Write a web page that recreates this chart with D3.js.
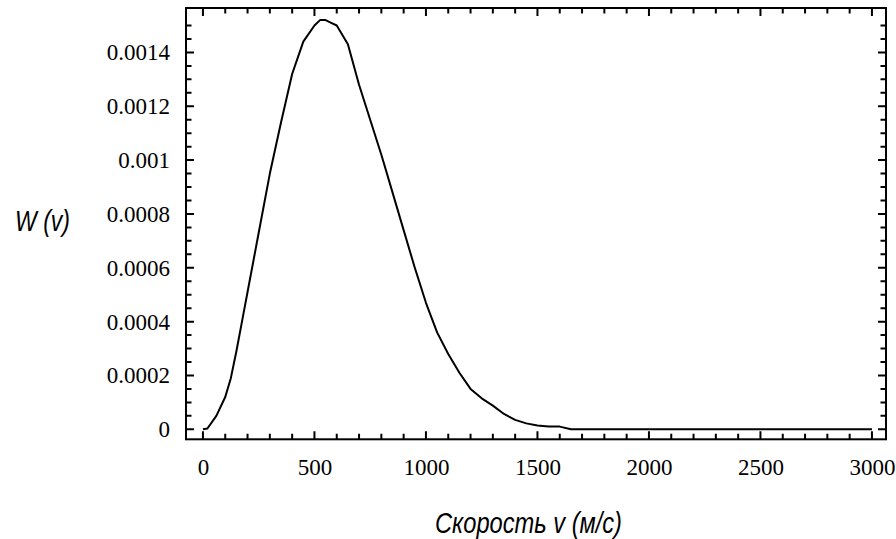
<!DOCTYPE html>
<html>
<head>
<meta charset="utf-8">
<script src="https://cdn.jsdelivr.net/npm/d3@7"></script>
<style>
  body { margin: 0; background: #fff; }
  .tick text { font-family: "Liberation Serif", "Times New Roman", serif; font-size: 23px; fill: #000; }
  .title { font-family: "Liberation Sans", Arial, sans-serif; font-style: italic; font-size: 29px; fill: #000; }
</style>
</head>
<body>
<div id="chart"></div>
<script>
const width = 896;
const height = 539;

// speed v (m/s) and W(v)
const speeds = [0, 20, 60, 100, 125, 150, 175, 200, 250, 300, 350, 400, 450, 500, 525, 550, 575, 600, 650, 700,
  750, 800, 850, 900, 950, 1000, 1050, 1100, 1150, 1200, 1250, 1300, 1350, 1400, 1450, 1500, 1550, 1600, 1650, 3000];
const wValues = [0, 0.000003, 0.00005, 0.00012, 0.00019, 0.00029, 0.0004, 0.00051, 0.00073, 0.00095, 0.00114, 0.00132, 0.00144, 0.0015, 0.00152, 0.00152, 0.00151, 0.0015, 0.00143, 0.00128,
  0.00115, 0.00102, 0.00088, 0.00074, 0.0006, 0.00047, 0.00036, 0.00028, 0.00021, 0.00015, 0.000115, 0.000088, 0.000057, 0.000035, 0.000022, 0.000014, 0.00001, 0.00001, 0, 0];

const xTicks = [0, 500, 1000, 1500, 2000, 2500, 3000];
const yTicks = [0, 0.0002, 0.0004, 0.0006, 0.0008, 0.001, 0.0012, 0.0014];
const yLabels = ["0", "0.0002", "0.0004", "0.0006", "0.0008", "0.001", "0.0012", "0.0014"];

const xMinor = d3.range(0, 3001, 100).filter(v => v % 500 !== 0);
const yMinor = d3.range(0, 31).map(i => i * 0.00005).filter((v, i) => i % 4 !== 0);

const plotLeft = 186, plotRight = 886, plotTop = 8, plotBottom = 439.3;

const x = d3.scaleLinear().domain([-76, 3063]).range([plotLeft, plotRight]);
const y = d3.scaleLinear().domain([-0.0000371, 0.001565]).range([plotBottom, plotTop]);

const svg = d3.select("#chart").append("svg")
  .attr("width", width)
  .attr("height", height);

// labels through d3 axes
svg.append("g")
  .attr("transform", `translate(0,${plotBottom})`)
  .call(d3.axisBottom(x).tickValues(xTicks).tickSize(0).tickPadding(19).tickFormat(d3.format("d")))
  .call(g => g.select(".domain").remove());

svg.append("g")
  .attr("transform", `translate(${plotLeft},0)`)
  .call(d3.axisLeft(y).tickValues(yTicks).tickSize(0).tickPadding(16).tickFormat((d, i) => yLabels[i]))
  .call(g => g.select(".domain").remove());

// inward ticks on all four sides, as one path
let tickPath = "";
function addX(vals, len) {
  vals.forEach(v => {
    const px = x(v);
    tickPath += `M${px},${plotBottom}V${plotBottom - len}M${px},${plotTop}V${plotTop + len}`;
  });
}
function addY(vals, len) {
  vals.forEach(v => {
    const py = y(v);
    tickPath += `M${plotLeft},${py}H${plotLeft + len}M${plotRight},${py}H${plotRight - len}`;
  });
}
addX(xTicks, 8);
addX(xMinor, 5.5);
addY(yTicks, 8);
addY(yMinor, 5.5);

svg.append("path")
  .attr("d", tickPath)
  .attr("fill", "none")
  .attr("stroke", "#000")
  .attr("stroke-width", 2);

// frame
svg.append("rect")
  .attr("x", plotLeft)
  .attr("y", plotTop)
  .attr("width", plotRight - plotLeft)
  .attr("height", plotBottom - plotTop)
  .attr("fill", "none")
  .attr("stroke", "#000")
  .attr("stroke-width", 2);

// curve
const line = d3.line()
  .x((d, i) => x(speeds[i]))
  .y(d => y(d));

svg.append("path")
  .datum(wValues)
  .attr("d", line)
  .attr("fill", "none")
  .attr("stroke", "#000")
  .attr("stroke-width", 2)
  .attr("stroke-linejoin", "round");

// axis titles (narrow italic, squeezed to the reference width)
svg.append("text")
  .attr("class", "title")
  .attr("x", 435)
  .attr("y", 533)
  .attr("textLength", 187)
  .attr("lengthAdjust", "spacingAndGlyphs")
  .text("Скорость v (м/с)");

svg.append("text")
  .attr("class", "title")
  .attr("x", 15)
  .attr("y", 231)
  .attr("textLength", 55)
  .attr("lengthAdjust", "spacingAndGlyphs")
  .text("W (v)");
</script>
</body>
</html>
